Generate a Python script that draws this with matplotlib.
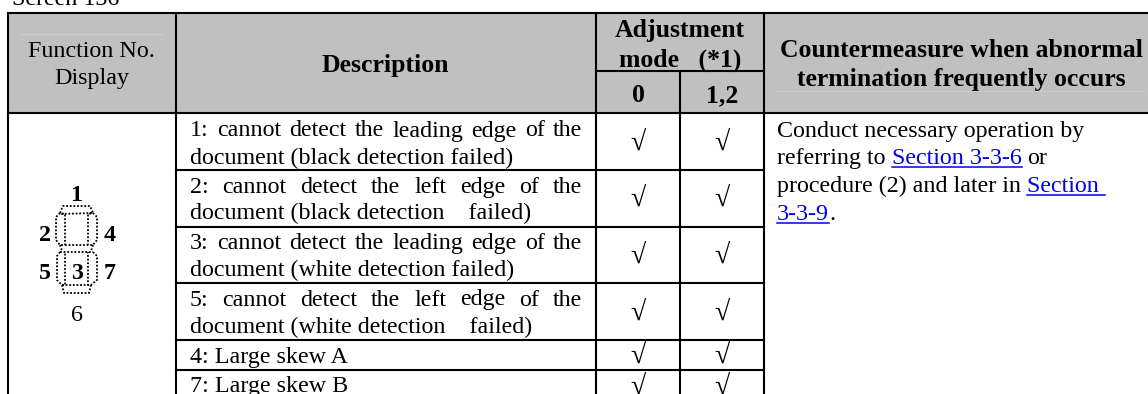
import matplotlib
matplotlib.use("Agg")
import matplotlib.pyplot as plt
from matplotlib.patches import Rectangle

SERIF = ["Liberation Serif", "DejaVu Serif"]
BODY_SIZE = 17.25
HEAD_SIZE = 18.5

# table layout, in pixels
col_x = [8, 175.5, 596, 680, 764, 1160]
header_top = 12.5
header_mid = 71
header_bottom = 113
row_lines = [169.5, 226.5, 283, 340, 370]

# description lines: text, baseline, justified
desc_lines = [
    ("1: cannot detect the leading edge of the", 136.5, True),
    ("document (black detection failed)", 164, False),
    ("2: cannot detect the left edge of the", 193, True),
    ("document (black detection\u00a0\u00a0\u00a0\u00a0failed)", 219.5, False),
    ("3: cannot detect the leading edge of the", 248.5, True),
    ("document (white detection failed)", 276.5, False),
    ("5: cannot detect the left edge of the", 305.5, True),
    ("document (white detection\u00a0\u00a0\u00a0\u00a0failed)", 333.5, False),
    ("4: Large skew A", 362.5, False),
    ("7: Large skew B", 392, False),
]
check_rows = [149.5, 206, 263, 320, 363, 394]

# seven segment digits
seg_labels = [("1", 76, 201, "bold"), ("2", 45, 241, "bold"), ("4", 110, 241, "bold"),
              ("5", 45, 279, "bold"), ("3", 77, 279, "bold"), ("7", 110, 279, "bold"),
              ("6", 77, 321, "normal")]
segments = [
    [(60, 213), (63, 206), (90, 206), (93, 213), (60, 214)],
    [(60, 213), (56, 217), (56, 240), (60, 245), (65, 245), (65, 214), (60, 213)],
    [(93, 213), (97, 217), (97, 240), (93, 245), (88, 245), (88, 214), (93, 213)],
    [(65, 245), (88, 245)],
    [(60, 245), (62, 251)],
    [(93, 245), (91, 251)],
    [(60, 252), (93, 252)],
    [(60, 252), (57, 256), (57, 280), (62, 285), (65, 285), (65, 252)],
    [(93, 252), (97, 256), (97, 280), (91, 285), (88, 285), (88, 252)],
    [(62, 285), (64, 293), (89, 293), (91, 285), (62, 285)],
]

fig = plt.figure(figsize=(11.48, 3.94), dpi=100)
ax = fig.add_axes([0, 0, 1, 1])
ax.set_xlim(0, 1148)
ax.set_ylim(394, 0)
ax.axis("off")


def put(x, y, s, ha="left", size=BODY_SIZE, weight="normal", color="black"):
    return ax.text(x, y, s, ha=ha, va="baseline", fontsize=size, family=SERIF,
                   weight=weight, color=color)


def justify(text, x0, x1, y):
    words = text.split(" ")
    r = fig.canvas.get_renderer()
    items = [put(x0, y, w) for w in words]
    widths = [t.get_window_extent(r).width for t in items]
    gap = (x1 - x0 - sum(widths)) / (len(words) - 1)
    x = x0
    for t, w in zip(items, widths):
        t.set_x(x)
        x += w + gap


def link(x, y, s):
    t = put(x, y, s, color="#0000ee")
    w = t.get_window_extent(fig.canvas.get_renderer()).width
    ax.plot([x, x + w], [y + 3, y + 3], color="#0000ee", lw=1.1)
    return x + w


put(12, 5, "Screen 136")

ax.add_patch(Rectangle((col_x[0], header_top), 1160, header_bottom - header_top,
                       fc="#c0c0c0", ec="none"))
ax.plot([21, 162], [34, 34], color="#cdcdcd", lw=0.7)
ax.plot([777, 1145], [91, 91], color="#cdcdcd", lw=0.7)

# grid
lw = 1.5
ax.plot([col_x[0], 1148], [header_top, header_top], "k", lw=lw)
ax.plot([col_x[0], 1148], [header_bottom, header_bottom], "k", lw=lw)
ax.plot([col_x[2], col_x[4]], [header_mid, header_mid], "k", lw=lw)
ax.plot([col_x[3], col_x[3]], [header_mid, 394], "k", lw=lw)
for x in [col_x[0], col_x[1], col_x[2], col_x[4]]:
    ax.plot([x, x], [header_top, 394], "k", lw=lw)
for y in row_lines:
    ax.plot([col_x[1], col_x[4]], [y, y], "k", lw=lw)

# header
put(91.5, 57, "Function No.", ha="center")
put(91.5, 84, "Display", ha="center")
put(385, 72, "Description", ha="center", size=HEAD_SIZE, weight="bold")
put(680, 37, "Adjustment", ha="center", size=HEAD_SIZE, weight="bold")
put(680, 67, "mode\u00a0\u00a0\u00a0(*1)", ha="center", size=HEAD_SIZE, weight="bold")
put(638, 102, "0", ha="center", size=HEAD_SIZE, weight="bold")
put(722, 102, "1,2", ha="center", size=HEAD_SIZE, weight="bold")
put(961, 57, "Countermeasure when abnormal", ha="center", size=HEAD_SIZE, weight="bold")
put(961, 86, "termination frequently occurs", ha="center", size=HEAD_SIZE, weight="bold")

# description column
fig.canvas.draw()
for text, y, just in desc_lines:
    if just:
        justify(text, 190, 582, y)
    else:
        put(190, y, text)

for y in check_rows:
    put(638, y, "\u221a", ha="center", size=20)
    put(722, y, "\u221a", ha="center", size=20)

# countermeasure column
put(777, 136.5, "Conduct necessary operation by")
put(777, 163.5, "referring to")
link(892, 163.5, "Section 3-3-6")
put(1027, 163.5, "or")
put(777, 191.5, "procedure (2) and later in")
link(1027, 191.5, "Section\u00a0")
end = link(777, 220, "3-3-9")
put(end, 220, ".")

# seven segment display
for seg in segments:
    ax.plot([p[0] for p in seg], [p[1] for p in seg], color="black", lw=1.3, ls=(0, (1, 1)))
for s, x, y, w in seg_labels:
    put(x, y, s, ha="center", weight=w)

fig.savefig("out.png", dpi=100)
